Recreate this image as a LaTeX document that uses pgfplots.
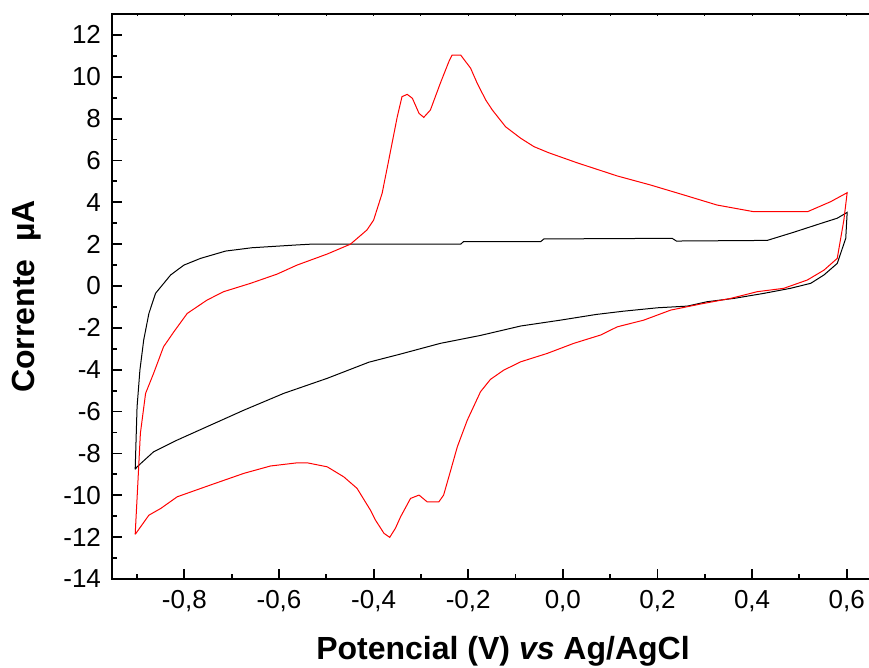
\documentclass[border=0pt]{standalone}
\usepackage{pgfplots}
\pgfplotsset{compat=1.18}
\usepackage{fontspec}
\setmainfont{Liberation Sans}

% cyclic voltammograms
\pgfplotstableread{
x y
-0.904 -8.76
-0.900 -5.77
-0.894 -4.02
-0.886 -2.58
-0.875 -1.31
-0.861 -0.35
-0.829 0.53
-0.801 1.00
-0.766 1.32
-0.713 1.67
-0.657 1.83
-0.565 1.96
-0.533 2.00
-0.216 2.00
-0.210 2.12
-0.047 2.12
-0.040 2.25
0.231 2.28
0.240 2.15
0.432 2.18
0.488 2.57
0.552 3.04
0.580 3.24
0.601 3.52
0.598 2.28
0.580 1.08
0.552 0.53
0.524 0.13
0.481 -0.11
0.425 -0.35
0.362 -0.59
0.305 -0.75
0.263 -0.96
0.200 -1.04
0.129 -1.20
0.070 -1.36
-0.005 -1.63
-0.089 -1.91
-0.174 -2.36
-0.259 -2.74
-0.343 -3.25
-0.410 -3.64
-0.498 -4.41
-0.590 -5.13
-0.674 -5.93
-0.752 -6.72
-0.815 -7.36
-0.865 -7.92
-0.900 -8.64
-0.904 -8.76
}\branco

\pgfplotstableread{
x y
-0.904 -11.87
-0.898 -9.27
-0.893 -7.04
-0.882 -5.13
-0.865 -4.17
-0.844 -2.90
-0.822 -2.18
-0.794 -1.31
-0.752 -0.67
-0.717 -0.27
-0.660 0.13
-0.604 0.57
-0.562 1.00
-0.498 1.53
-0.449 2.00
-0.414 2.68
-0.400 3.15
-0.382 4.43
-0.368 6.02
-0.350 8.09
-0.340 9.05
-0.329 9.16
-0.318 8.97
-0.304 8.25
-0.294 8.06
-0.280 8.41
-0.259 9.69
-0.241 10.72
-0.234 11.04
-0.216 11.04
-0.195 10.41
-0.181 9.69
-0.163 8.89
-0.149 8.41
-0.121 7.61
-0.089 7.06
-0.061 6.66
-0.030 6.37
0.030 5.89
0.115 5.26
0.185 4.83
0.256 4.35
0.326 3.87
0.404 3.55
0.517 3.55
0.566 4.03
0.601 4.46
0.594 3.15
0.580 1.32
0.552 0.76
0.517 0.29
0.467 -0.11
0.411 -0.27
0.355 -0.59
0.291 -0.86
0.228 -1.15
0.171 -1.63
0.115 -1.95
0.080 -2.34
0.023 -2.74
-0.033 -3.22
-0.089 -3.62
-0.125 -4.02
-0.153 -4.46
-0.174 -5.05
-0.202 -6.41
-0.223 -7.68
-0.237 -8.80
-0.252 -9.99
-0.262 -10.31
-0.287 -10.31
-0.304 -9.99
-0.322 -10.15
-0.343 -11.03
-0.354 -11.58
-0.366 -12.01
-0.378 -11.82
-0.396 -11.19
-0.407 -10.70
-0.435 -9.67
-0.463 -9.12
-0.498 -8.64
-0.540 -8.45
-0.562 -8.45
-0.618 -8.60
-0.674 -8.95
-0.745 -9.51
-0.815 -10.07
-0.850 -10.63
-0.875 -10.95
-0.904 -11.87
}\amostra

\begin{document}
\begin{tikzpicture}
\useasboundingbox (-56pt,-44.5pt) rectangle (378.5pt,289.5pt);
\begin{axis}[
  at={(0,0)}, anchor=south west,
  scale only axis,
  width=391pt, height=282.5pt,
  xmin=-0.953, xmax=0.70,
  ymin=-14, ymax=13,
  tick pos=left,
  tick align=inside,
  axis line style={line width=1pt},
  every tick/.style={black, line width=0.9pt},
  major tick length=5pt,
  minor tick length=2.5pt,
  xtick={-0.8,-0.6,-0.4,-0.2,0,0.2,0.4,0.6},
  minor xtick={-0.9,-0.7,-0.5,-0.3,-0.1,0.1,0.3,0.5},
  ytick={-14,-12,-10,-8,-6,-4,-2,0,2,4,6,8,10,12},
  minor ytick={-13,-11,-9,-7,-5,-3,-1,1,3,5,7,9,11},
  /pgf/number format/assume math mode=true,
  ticklabel style={font=\fontsize{13}{15}\selectfont},
  xticklabel style={/pgf/number format/.cd, fixed, fixed zerofill, precision=1, use comma, /tikz/.cd, yshift=-2pt},
  yticklabel style={xshift=-2pt},
  xlabel={Potencial (V) \textit{vs} Ag/AgCl},
  ylabel={Corrente~~µA},
  label style={font=\bfseries\fontsize{16}{19}\selectfont},
  xlabel style={at={(rel axis cs:0.5,0)}, anchor=base, yshift=-40.5pt},
  ylabel style={at={(rel axis cs:0,0.5)}, anchor=base, yshift=38.5pt},
]
\addplot[black, line width=0.5pt] table {\branco};
\addplot[red, line width=0.5pt] table {\amostra};
\end{axis}
% tiny ticks along the top edge
\begin{axis}[
  at={(0,0)}, anchor=south west,
  scale only axis,
  width=391pt, height=282.5pt,
  xmin=-0.953, xmax=0.70,
  ymin=-14, ymax=13,
  axis x line*=top, axis y line=none,
  axis line style={draw=none},
  tick align=inside,
  major tick length=1.2pt,
  every tick/.style={black, line width=0.5pt},
  xtick={-0.9,-0.8,-0.7,-0.6,-0.5,-0.4,-0.3,-0.2,-0.1,0,0.1,0.2,0.3,0.4,0.5,0.6},
  xticklabels={},
]
\end{axis}
\end{tikzpicture}
\end{document}
